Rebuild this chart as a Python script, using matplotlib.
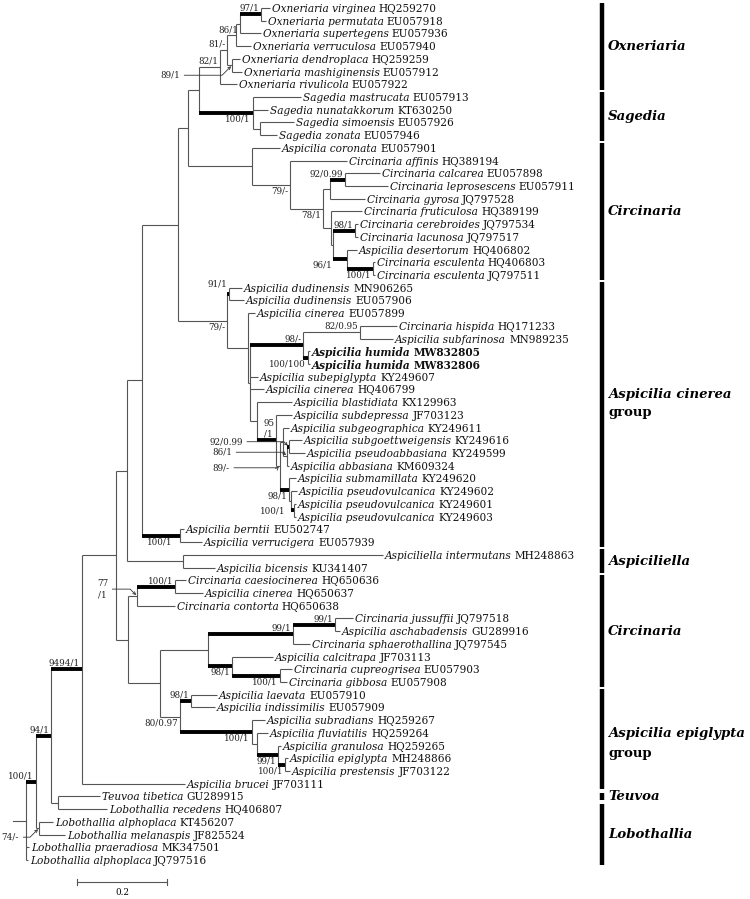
import matplotlib
matplotlib.use('Agg')
import matplotlib.pyplot as plt

# tips, top to bottom
taxa = [
    'Oxneriaria virginea', 'Oxneriaria permutata', 'Oxneriaria supertegens',
    'Oxneriaria verruculosa', 'Oxneriaria dendroplaca', 'Oxneriaria mashiginensis',
    'Oxneriaria rivulicola', 'Sagedia mastrucata', 'Sagedia nunatakkorum',
    'Sagedia simoensis', 'Sagedia zonata', 'Aspicilia coronata',
    'Circinaria affinis', 'Circinaria calcarea', 'Circinaria leprosescens',
    'Circinaria gyrosa', 'Circinaria fruticulosa', 'Circinaria cerebroides',
    'Circinaria lacunosa', 'Aspicilia desertorum', 'Circinaria esculenta',
    'Circinaria esculenta', 'Aspicilia dudinensis', 'Aspicilia dudinensis',
    'Aspicilia cinerea', 'Circinaria hispida', 'Aspicilia subfarinosa',
    'Aspicilia humida', 'Aspicilia humida', 'Aspicilia subepiglypta',
    'Aspicilia cinerea', 'Aspicilia blastidiata', 'Aspicilia subdepressa',
    'Aspicilia subgeographica', 'Aspicilia subgoettweigensis', 'Aspicilia pseudoabbasiana',
    'Aspicilia abbasiana', 'Aspicilia submamillata', 'Aspicilia pseudovulcanica',
    'Aspicilia pseudovulcanica', 'Aspicilia pseudovulcanica', 'Aspicilia berntii',
    'Aspicilia verrucigera', 'Aspiciliella intermutans', 'Aspicilia bicensis',
    'Circinaria caesiocinerea', 'Aspicilia cinerea', 'Circinaria contorta',
    'Circinaria jussuffii', 'Aspicilia aschabadensis', 'Circinaria sphaerothallina',
    'Aspicilia calcitrapa', 'Circinaria cupreogrisea', 'Circinaria gibbosa',
    'Aspicilia laevata', 'Aspicilia indissimilis', 'Aspicilia subradians',
    'Aspicilia fluviatilis', 'Aspicilia granulosa', 'Aspicilia epiglypta',
    'Aspicilia prestensis', 'Aspicilia brucei', 'Teuvoa tibetica',
    'Lobothallia recedens', 'Lobothallia alphoplaca', 'Lobothallia melanaspis',
    'Lobothallia praeradiosa', 'Lobothallia alphoplaca',
]
accessions = [
    'HQ259270', 'EU057918', 'EU057936', 'EU057940', 'HQ259259', 'EU057912', 'EU057922',
    'EU057913', 'KT630250', 'EU057926', 'EU057946', 'EU057901', 'HQ389194', 'EU057898',
    'EU057911', 'JQ797528', 'HQ389199', 'JQ797534', 'JQ797517', 'HQ406802', 'HQ406803',
    'JQ797511', 'MN906265', 'EU057906', 'EU057899', 'HQ171233', 'MN989235', 'MW832805',
    'MW832806', 'KY249607', 'HQ406799', 'KX129963', 'JF703123', 'KY249611', 'KY249616',
    'KY249599', 'KM609324', 'KY249620', 'KY249602', 'KY249601', 'KY249603', 'EU502747',
    'EU057939', 'MH248863', 'KU341407', 'HQ650636', 'HQ650637', 'HQ650638', 'JQ797518',
    'GU289916', 'JQ797545', 'JF703113', 'EU057903', 'EU057908', 'EU057910', 'EU057909',
    'HQ259267', 'HQ259264', 'HQ259265', 'MH248866', 'JF703122', 'JF703111', 'GU289915',
    'HQ406807', 'KT456207', 'JF825524', 'MK347501', 'JQ797516',
]
# distance of each tip from the root
tip_depth = [
    0.542, 0.533, 0.522, 0.500, 0.476, 0.480, 0.469, 0.611, 0.538, 0.596, 0.558, 0.564,
    0.713, 0.787, 0.804, 0.753, 0.747, 0.738, 0.738, 0.736, 0.776, 0.776, 0.480, 0.484,
    0.509, 0.824, 0.816, 0.631, 0.631, 0.516, 0.529, 0.591, 0.591, 0.584, 0.613, 0.620,
    0.584, 0.600, 0.602, 0.600, 0.600, 0.351, 0.391, 0.793, 0.420, 0.356, 0.393, 0.331,
    0.727, 0.698, 0.631, 0.549, 0.591, 0.580, 0.424, 0.420, 0.531, 0.538, 0.567, 0.582,
    0.587, 0.353, 0.164, 0.180, 0.060, 0.087, 0.007, 0.004,
]
bold_tips = [27, 28]

# internal nodes: children (tip index or node name) and depth
node_children = {
    'root': ['lob100', 66, 67], 'lob100': ['n94', 'n74'], 'n74': [64, 65],
    'n94': ['n9494', 'teu'], 'teu': [62, 63], 'n9494': ['n116', 61],
    'n116': ['n127', 'n128'], 'n127': ['n142', 'asl'], 'asl': [43, 44],
    'n142': ['n178', 'bern'], 'bern': [41, 42], 'n178': ['n188', 'cin79'],
    'n188': ['oxsag', 'cir'], 'oxsag': ['ox82', 'sag'], 'ox82': ['ox81', 6],
    'ox81': ['oxb', 'ox89'], 'oxb': ['ox86', 3], 'ox86': ['ox97', 2], 'ox97': [0, 1],
    'ox89': [4, 5], 'sag': [7, 8, 'sag2'], 'sag2': [9, 10],
    'cir': [11, 'cir79'], 'cir79': [12, 'cir78'], 'cir78': ['cirg', 'cirp'],
    'cirg': ['cir92', 15], 'cir92': [13, 14], 'cirp': [16, 'cirq'],
    'cirq': ['cir98', 'cir96'], 'cir98': [17, 18], 'cir96': [19, 'esc'], 'esc': [20, 21],
    'cin79': ['dud', 'cin248'], 'dud': [22, 23], 'cin248': [24, 'cink'],
    'cink': ['hum98', 29, 30, 'cinm'], 'hum98': ['his82', 'hum100'], 'his82': [25, 26],
    'hum100': [27, 28], 'cinm': [31, 'cin95'], 'cin95': [32, 'cin89'],
    'cin89': ['cins', 'pv98'], 'cins': [33, 'cin86'], 'cin86': ['cin92', 36],
    'cin92': [34, 35], 'pv98': [37, 'pvt'], 'pvt': [38, 'pv100'], 'pv100': [39, 40],
    'n128': ['c77', 'n160'], 'c77': ['c100', 47], 'c100': [45, 46],
    'n160': ['cl', 'e80'], 'cl': ['cl99a', 'cl98'], 'cl99a': ['cl99b', 50],
    'cl99b': [48, 49], 'cl98': [51, 'cl100'], 'cl100': [52, 53],
    'e80': ['e98', 'e100'], 'e98': [54, 55], 'e100': [56, 'ef'], 'ef': [57, 'e99'],
    'e99': [58, 'e100p'], 'e100p': [59, 60],
}
node_depth = {
    'root': 0.0, 'lob100': 0.022, 'n74': 0.029, 'n94': 0.056, 'teu': 0.071,
    'n9494': 0.124, 'n116': 0.200, 'n127': 0.224, 'asl': 0.349, 'n142': 0.258,
    'bern': 0.342, 'n178': 0.338, 'n188': 0.360, 'oxsag': 0.384, 'ox82': 0.431,
    'ox81': 0.447, 'oxb': 0.467, 'ox86': 0.476, 'ox97': 0.522, 'ox89': 0.458,
    'sag': 0.504, 'sag2': 0.520, 'cir': 0.502, 'cir79': 0.587, 'cir78': 0.660,
    'cirg': 0.676, 'cir92': 0.709, 'cirp': 0.678, 'cirq': 0.682, 'cir98': 0.731,
    'cir96': 0.713, 'esc': 0.771, 'cin79': 0.447, 'dud': 0.451, 'cin248': 0.493,
    'cink': 0.498, 'hum98': 0.616, 'his82': 0.742, 'hum100': 0.627, 'cinm': 0.513,
    'cin95': 0.556, 'cin89': 0.564, 'cins': 0.571, 'cin86': 0.580, 'cin92': 0.584,
    'pv98': 0.584, 'pvt': 0.589, 'pv100': 0.596, 'n128': 0.227, 'c77': 0.247,
    'c100': 0.331, 'n160': 0.298, 'cl': 0.404, 'cl99a': 0.593, 'cl99b': 0.687,
    'cl98': 0.458, 'cl100': 0.564, 'e80': 0.342, 'e98': 0.367, 'e100': 0.502,
    'ef': 0.513, 'e99': 0.560, 'e100p': 0.576,
}
# bootstrap / posterior probability
support = {
    'ox97': '97/1', 'ox86': '86/1', 'ox81': '81/-', 'ox89': '89/1', 'ox82': '82/1',
    'sag': '100/1', 'cir79': '79/-', 'cir92': '92/0.99', 'cir78': '78/1',
    'cir98': '98/1', 'cir96': '96/1', 'esc': '100/1', 'dud': '91/1', 'cin79': '79/-',
    'hum98': '98/-', 'his82': '82/0.95', 'hum100': '100/100', 'cin95': '95\n/1',
    'cin92': '92/0.99', 'cin86': '86/1', 'cin89': '89/-', 'pv98': '98/1',
    'pv100': '100/1', 'bern': '100/1', 'c100': '100/1', 'c77': '77\n/1',
    'cl99a': '99/1', 'cl99b': '99/1', 'cl98': '98/1', 'cl100': '100/1',
    'e98': '98/1', 'e80': '80/0.97', 'e100': '100/1', 'e99': '99/1',
    'e100p': '100/1', 'n9494': '9494/1', 'n94': '94/1', 'lob100': '100/1', 'n74': '74/-',
}
thick = ['ox97', 'sag', 'cir92', 'cir98', 'cir96', 'esc', 'dud', 'hum98', 'hum100',
         'cin95', 'cin92', 'pv98', 'pv100', 'bern', 'c100', 'cl99a', 'cl99b', 'cl98',
         'cl100', 'e98', 'e100', 'e99', 'e100p', 'n9494', 'n94', 'lob100']

clade_names = ['Oxneriaria', 'Sagedia', 'Circinaria', 'Aspicilia cinerea', 'Aspiciliella',
               'Circinaria', 'Aspicilia epiglypta', 'Teuvoa', 'Lobothallia']
clade_suffix = ['', '', '', 'group', '', '', 'group', '', '']
clade_first = [0, 7, 11, 22, 43, 45, 54, 62, 63]
clade_last = [6, 10, 21, 42, 44, 53, 61, 62, 67]

scale_len = 0.2

# ---- layout / style
below = ['ox86', 'sag', 'cir79', 'cir78', 'cir96', 'esc', 'cin79', 'hum100', 'pv98',
         'pv100', 'bern', 'cl98', 'cl100', 'e80', 'e100', 'e99', 'e100p']
leader = {'ox89': (-52, -10), 'cin92': (-46, 5), 'cin86': (-55, 4), 'cin89': (-50, -2),
          'c77': (-29, 7), 'n74': (-20, -9)}
nudge = {'cir96': (-13, 0), 'pv100': (-7, 5), 'bern': (-5, 0), 'dud': (0, 4)}
clade_dy = [(0, 0), (0, 0), (0, 0), (20, 2), (0, 0), (0, 0), (6, -14), (0, 0), (0, 0)]

serif = 'DejaVu Serif'
fs_tip = 7.6
fs_sup = 6.3
fs_clade = 9.5
line_c = '#555555'

fig = plt.figure(figsize=(7.5, 8.99), dpi=100)
ax = fig.add_axes([0, 0, 1, 1])
ax.set_xlim(-26 / 450, 724 / 450)
ax.set_ylim(70.07, -0.63)
ax.axis('off')

node_y = {}


def get_y(c):
    if isinstance(c, int):
        return c
    if c not in node_y:
        ys = [get_y(k) for k in node_children[c]]
        node_y[c] = (min(ys) + max(ys)) / 2
    return node_y[c]


def get_x(c):
    return tip_depth[c] if isinstance(c, int) else node_depth[c]


get_y('root')

for n, kids in node_children.items():
    x = node_depth[n]
    ys = [get_y(k) for k in kids]
    ax.plot([x, x], [min(ys), max(ys)], color=line_c, lw=0.8, solid_capstyle='butt')
    for k in kids:
        if k in thick:
            ax.plot([x, get_x(k)], [get_y(k)] * 2, color='black', lw=2.8,
                    solid_capstyle='butt', zorder=3)
        else:
            ax.plot([x, get_x(k)], [get_y(k)] * 2, color=line_c, lw=0.8,
                    solid_capstyle='butt')

# root stub
ax.plot([-13 / 450, 0], [node_y['root']] * 2, color=line_c, lw=0.8)

# support values
for n, lab in support.items():
    x, y = node_depth[n], node_y[n]
    if n in leader:
        dx, dy = leader[n]
        ang = 45 if dy < 0 else -45
        ax.annotate(lab, (x, y), xytext=(dx, dy), textcoords='offset pixels',
                    ha='right', va='center', ma='center', fontsize=fs_sup,
                    family=serif, color='#222222', linespacing=1.3,
                    arrowprops=dict(arrowstyle='->,head_length=0.3,head_width=0.15',
                                    connectionstyle=f'angle,angleA=0,angleB={ang},rad=0',
                                    lw=0.6, color='#333333', relpos=(1, 0.5),
                                    shrinkA=1, shrinkB=1))
        continue
    dx, dy = nudge.get(n, (0, 0))
    if n in below:
        ax.annotate(lab, (x, y), xytext=(-2 + dx, -1.5 + dy), textcoords='offset pixels',
                    ha='right', va='top', fontsize=fs_sup, family=serif, color='#222222')
    else:
        ax.annotate(lab, (x, y), xytext=(-2 + dx, 1.5 + dy), textcoords='offset pixels',
                    ha='right', va='bottom', ma='center', fontsize=fs_sup, family=serif,
                    color='#222222', linespacing=1.25)

# tip labels
rend = fig.canvas.get_renderer()
inv = ax.transData.inverted()
for i, name in enumerate(taxa):
    w = 'bold' if i in bold_tips else 'normal'
    t = ax.annotate(name, (tip_depth[i], i), xytext=(2, 0), textcoords='offset pixels',
                    ha='left', va='center_baseline', style='italic', weight=w,
                    fontsize=fs_tip, family=serif, color='#111111')
    bb = t.get_window_extent(renderer=rend)
    xe = inv.transform((bb.x1, 0))[0]
    ax.annotate(accessions[i], (xe, i), xytext=(3, 0), textcoords='offset pixels',
                ha='left', va='center_baseline', weight=w, fontsize=fs_tip,
                family=serif, color='#111111')

# clade bars
bar_x = 576 / 450
for name, suf, a, b, (d1, d2) in zip(clade_names, clade_suffix, clade_first,
                                      clade_last, clade_dy):
    pad = 0.42 if b > a else 0.28
    ax.plot([bar_x, bar_x], [a - pad, b + pad], color='black', lw=3.2,
            solid_capstyle='butt')
    yc = (a + b) / 2
    ax.annotate(name, (bar_x, yc), xytext=(6, d1), textcoords='offset pixels',
                ha='left', va='center', style='italic', weight='bold',
                fontsize=fs_clade, family=serif)
    if suf:
        ax.annotate(suf, (bar_x, yc), xytext=(6, d2), textcoords='offset pixels',
                    ha='left', va='center', weight='bold', fontsize=fs_clade,
                    family=serif)

# scale bar
sb_x, sb_y = 51 / 450, 68.73
ax.plot([sb_x, sb_x + scale_len], [sb_y, sb_y], color=line_c, lw=0.8)
for xx in (sb_x, sb_x + scale_len):
    ax.plot([xx, xx], [sb_y - 0.2, sb_y + 0.2], color=line_c, lw=0.8)
ax.annotate(f'{scale_len}', (sb_x + scale_len / 2, sb_y), xytext=(0, -6),
            textcoords='offset pixels', ha='center', va='top', fontsize=fs_sup,
            family=serif)

fig.savefig('out.png', dpi=100)
